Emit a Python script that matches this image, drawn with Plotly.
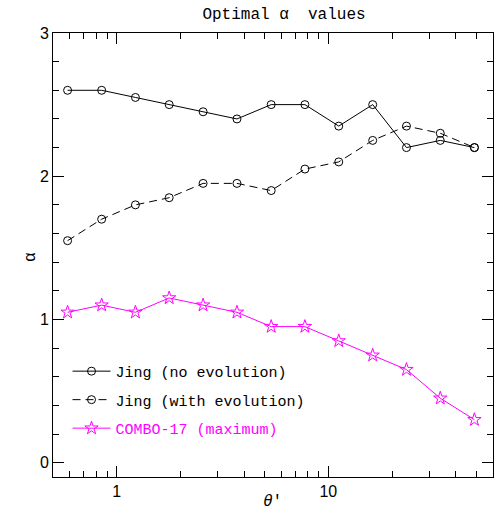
import plotly.graph_objects as go

theta = [0.586, 0.849, 1.226, 1.77, 2.56, 3.70, 5.37, 7.75, 11.2, 16.2, 23.4, 33.8, 49.0]
jing_no_evo = [2.6, 2.6, 2.55, 2.5, 2.45, 2.4, 2.5, 2.5, 2.35, 2.5, 2.2, 2.25, 2.2]
jing_evo = [1.55, 1.7, 1.8, 1.85, 1.95, 1.95, 1.9, 2.05, 2.1, 2.25, 2.35, 2.3, 2.2]
combo17 = [1.05, 1.1, 1.05, 1.15, 1.1, 1.05, 0.95, 0.95, 0.85, 0.75, 0.65, 0.45, 0.3]

names = ["Jing (no evolution)", "Jing (with evolution)", "COMBO-17 (maximum)"]

TXT = "Liberation Mono"
NUM = "Liberation Sans"
MAG = "#ff00ff"

fig = go.Figure()
fig.add_trace(go.Scatter(
    x=theta, y=jing_no_evo, mode="lines+markers", name=names[0], legendgroup="a",
    line=dict(color="black", width=1),
    marker=dict(symbol="circle-open", size=8, color="black", line=dict(width=1))))
fig.add_trace(go.Scatter(
    x=theta, y=jing_evo, mode="lines+markers", name=names[1], legendgroup="b",
    line=dict(color="black", width=1, dash="8px,5px"),
    marker=dict(symbol="circle-open", size=8, color="black", line=dict(width=1))))
fig.add_trace(go.Scatter(
    x=theta, y=combo17, mode="lines+markers",
    name="<span style='color:#ff00ff'>" + names[2] + "</span>", legendgroup="c",
    line=dict(color=MAG, width=1),
    marker=dict(symbol="star-open", size=10, color=MAG, line=dict(width=1))))

fig.update_layout(
    width=494, height=524,
    margin=dict(l=53, r=1, t=33, b=47, autoexpand=False),
    paper_bgcolor="white", plot_bgcolor="white",
    title=dict(text="Optimal α  values", font=dict(family=TXT, size=16, color="black"),
               x=284 / 494, xref="container", xanchor="center",
               y=1 - 13 / 524, yref="container", yanchor="middle"),
    showlegend=True,
    legend=dict(x=0.033, y=0.275, xanchor="left", yanchor="top",
                bgcolor="rgba(0,0,0,0)", tracegroupgap=6, itemwidth=38,
                font=dict(family=TXT, size=15, color="black")),
    annotations=[
        dict(text="α", x=20, y=524 - 257, xref="paper", yref="paper", showarrow=False,
             textangle=-90, font=dict(family=TXT, size=16, color="black")),
        dict(text="<i>θ</i>'", x=272, y=524 - 513, xref="paper", yref="paper", showarrow=False,
             font=dict(family=TXT, size=16, color="black")),
    ],
)
# convert annotation pixel positions to paper coordinates
for a in fig.layout.annotations:
    a.x = (a.x - 53) / 440
    a.y = (a.y - 47) / 444

fig.update_xaxes(
    type="log", range=[-0.301, 1.778], automargin=False,
    showline=True, linecolor="black", linewidth=1, mirror="allticks",
    ticks="inside", ticklen=11, tickcolor="black", tickwidth=1,
    dtick=1, showgrid=False, zeroline=False,
    tickfont=dict(family=NUM, size=16, color="black"),
    minor=dict(ticks="inside", ticklen=6, tickcolor="black", dtick="D1", showgrid=False),
)
fig.update_yaxes(
    range=[-0.1, 3.0], automargin=False,
    showline=True, linecolor="black", linewidth=1, mirror="allticks",
    ticks="inside", ticklen=11, tickcolor="black", tickwidth=1,
    dtick=1, showgrid=False, zeroline=False,
    tickfont=dict(family=NUM, size=16, color="black"),
    minor=dict(ticks="inside", ticklen=6, tickcolor="black", dtick=0.2, showgrid=False),
)

fig.write_html("out.html", config={"displayModeBar": False},
               post_script="document.body.style.margin='0';document.body.style.overflow='hidden';")
